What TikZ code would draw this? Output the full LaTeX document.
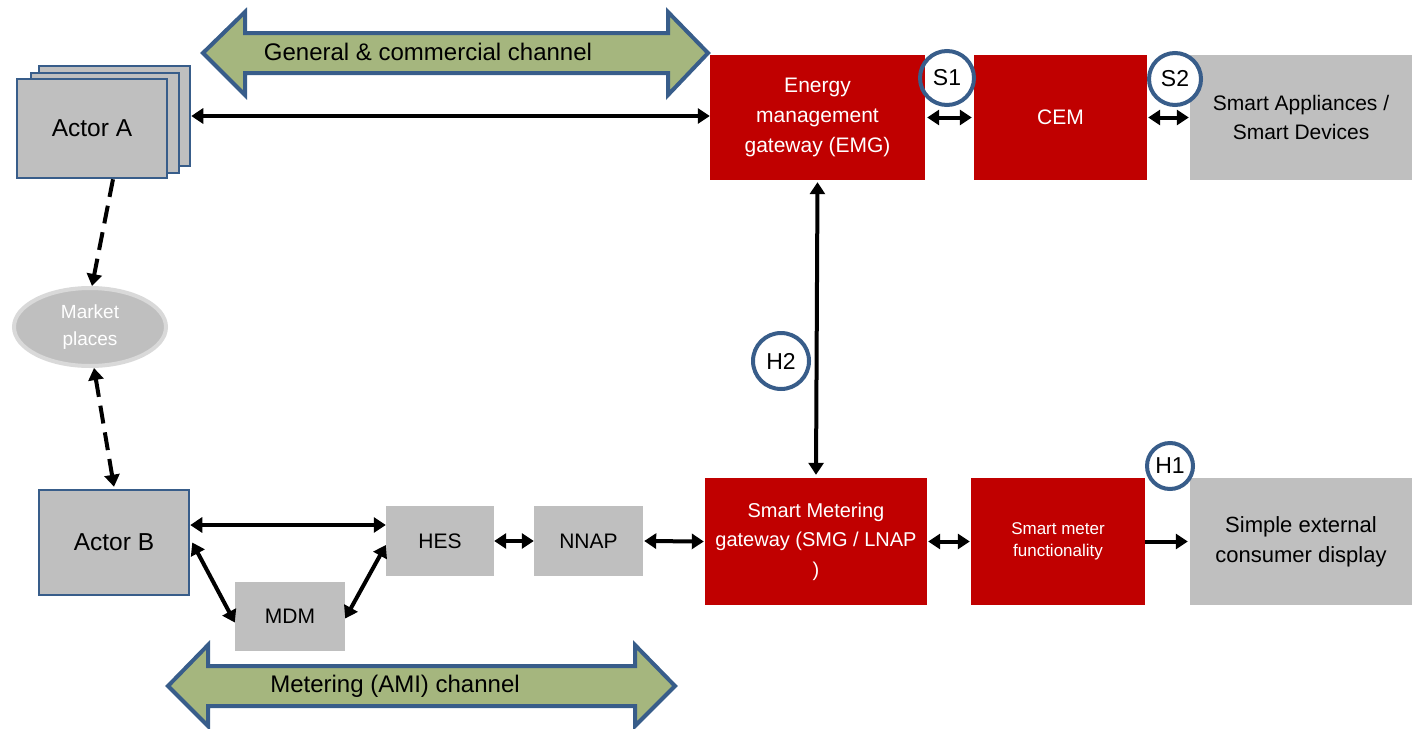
\documentclass[tikz,border=0pt]{standalone}
\usepackage{fontspec}
\setmainfont{Liberation Sans}
\usetikzlibrary{arrows.meta,shapes.geometric}

\definecolor{boxred}{RGB}{192,0,0}
\definecolor{boxgray}{RGB}{191,191,191}
\definecolor{edgeblue}{RGB}{56,93,138}
\definecolor{chgreen}{RGB}{165,182,126}
\definecolor{mktedge}{RGB}{217,217,217}

\newcommand{\fsz}[2]{\fontsize{#1}{#2}\selectfont}

\tikzset{
  redbox/.style={fill=boxred, text=white, align=center, inner sep=0pt, font=\fsz{21}{30}},
  graybox/.style={fill=boxgray, align=center, inner sep=0pt, font=\fsz{21}{29}},
  actorbox/.style={fill=boxgray, draw=edgeblue, line width=2.5pt, inner sep=0pt, font=\fsz{24.5}{28}},
  iface/.style={circle, draw=edgeblue, line width=4pt, inner sep=0pt, font=\fsz{23}{26}},
  tip/.tip={Triangle[length=12pt,width=15pt]},
  link/.style={line width=4pt, tip-tip},
  onelink/.style={line width=4pt, -tip},
  dlink/.style={line width=4pt, dash pattern=on 18pt off 9pt},
  channel/.style={fill=chgreen, draw=edgeblue, line width=4pt, line join=miter},
  chtext/.style={font=\fsz{24}{28}, inner sep=0pt}
}

\begin{document}
\begin{tikzpicture}[x=1pt, y=-1pt]
\useasboundingbox (0,0) rectangle (1412,728);

% channel arrows
\draw[channel] (203,53) -- (245,12) -- (245,33) -- (668,33) -- (668,12) -- (708,53)
  -- (668,95) -- (668,73) -- (245,73) -- (245,95) -- cycle;
\node[chtext] (gch) at (428,52) {General \& commercial channel};
\draw[channel] (168,686) -- (208,645) -- (208,666) -- (635,666) -- (635,645) -- (675,686)
  -- (635,726) -- (635,706) -- (208,706) -- (208,726) -- cycle;
\node[chtext] (mch) at (395,686) {Metering (AMI) channel};

% actor A stack
\node[actorbox, minimum width=151pt, minimum height=100pt] (actA3) at (114.5,116) {};
\node[actorbox, minimum width=148pt, minimum height=100pt] (actA2) at (105,123) {};
\node[actorbox, minimum width=150pt, minimum height=99pt] (actA) at (92,128.5) {Actor A};

% actor B and market places
\node[actorbox, minimum width=150pt, minimum height=105pt] (actB) at (114,542.5) {Actor B};
\node[ellipse, fill=boxgray, draw=mktedge, line width=4pt, minimum width=152pt, minimum height=78pt,
  inner sep=0pt, text=white, align=center, font=\fsz{19}{27}] (mkt) at (90,327) {Market\\places};

% head-end chain
\node[graybox, minimum width=110pt, minimum height=69pt] (mdm) at (290,616.5) {MDM};
\node[graybox, minimum width=108pt, minimum height=70pt] (hes) at (440,541) {HES};
\node[graybox, minimum width=109pt, minimum height=70pt] (nnap) at (588.5,541) {NNAP};

% gateways and devices
\node[redbox, minimum width=215pt, minimum height=125pt] (emg) at (817.5,117.5) {Energy\\management\\gateway (EMG)};
\node[redbox, minimum width=173pt, minimum height=125pt] (cem) at (1060.5,117.5) {CEM};
\node[graybox, minimum width=222pt, minimum height=125pt] (sad) at (1301,117.5) {Smart Appliances /\\Smart Devices};
\node[redbox, minimum width=222pt, minimum height=127pt, font=\fsz{20}{29.5}] (smg) at (816,541.5) {Smart Metering\\gateway (SMG / LNAP\\)};
\node[redbox, minimum width=174pt, minimum height=127pt, font=\fsz{17}{22}] (smf) at (1058,541.5) {Smart meter\\functionality};
\node[graybox, minimum width=222pt, minimum height=127pt, font=\fsz{22}{30}] (disp) at (1301,541.5) {Simple external\\consumer display};

% connectors
\draw[link] (actA3.east) -- (actA3.east -| emg.west);
\draw[link] ([xshift=2pt]emg.east) -- ([xshift=-2pt]cem.west);
\draw[link] ([xshift=1pt]cem.east) -- ([xshift=-1pt]sad.west);
\draw[link] ([yshift=-2pt]emg.south) -- ([yshift=3pt]smg.north);
\draw[link] ([xshift=1pt]smg.east) -- ([xshift=-1pt]smf.west);
\draw[onelink] (smf.east) -- ([xshift=-2pt]disp.west);
\draw[link] ([xshift=1pt]nnap.east) -- ([xshift=-1pt]smg.west);
\draw[link] (hes.east) -- (nnap.west);
\draw[link] ([yshift=17.5pt]actB.east) -- ([yshift=17.5pt]actB.east -| hes.west);
\draw[link] ([xshift=2pt]actB.east) -- ([yshift=-6pt]mdm.west);
\draw[link] ([yshift=-2pt]mdm.east) -- ([yshift=-4pt]hes.west);
\draw[dlink, -tip] ([xshift=21pt]actA.south) -- ([xshift=2pt]mkt.north);
\draw[dlink, tip-tip] ([xshift=4pt]mkt.south) -- ([yshift=2pt]actB.north);

% interface markers
\node[iface, minimum size=54pt] (s1) at (947,78) {S1};
\node[iface, fill=white, minimum size=52pt] (s2) at (1175,79) {S2};
\node[iface, minimum size=56pt] (h2) at (781,361) {H2};
\node[iface, fill=white, minimum size=46pt] (h1) at (1170,466) {H1};
\end{tikzpicture}
\end{document}
